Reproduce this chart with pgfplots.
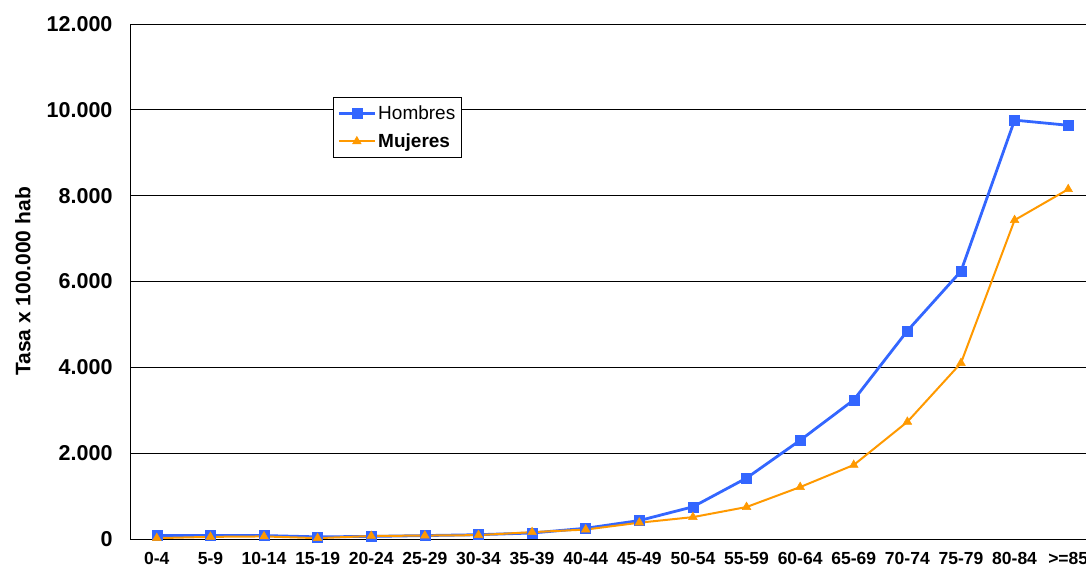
\documentclass[border=0pt]{standalone}
\usepackage{fontspec}
\setmainfont{Liberation Sans}
\usepackage{pgfplots}
\pgfplotsset{compat=1.18}
\definecolor{hblue}{HTML}{3366FF}
\definecolor{morange}{HTML}{FF9900}
\begin{document}
\begin{tikzpicture}[x=1pt,y=1pt]
\useasboundingbox (0,0) rectangle (1086,568);
\clip (0,0) rectangle (1086,568);
\begin{axis}[
  at={(130pt,29pt)}, anchor=south west,
  scale only axis, width=965pt, height=515pt,
  xmin=-0.5, xmax=17.5, ymin=0, ymax=12000,
  axis x line=bottom, axis y line=left,
  axis line style={-, line width=0.9pt, black},
  ymajorgrids, grid style={black, line width=0.9pt},
  ytick={0,2000,...,12000},
  xtick={0,...,17},
  xticklabels={0-4,5-9,10-14,15-19,20-24,25-29,30-34,35-39,40-44,45-49,50-54,55-59,60-64,65-69,70-74,75-79,80-84,>=85},
  major tick length=0pt,
  /pgf/number format/assume math mode=true,
  /pgf/number format/1000 sep={.},
  scaled y ticks=false,
  yticklabel style={font=\fontsize{21.5}{21.5}\selectfont\bfseries, xshift=-14pt},
  xticklabel style={font=\fontsize{17.5}{17.5}\selectfont\bfseries, yshift=-10pt},
  ylabel={Tasa x 100.000 hab},
  ylabel style={font=\fontsize{21}{21}\selectfont\bfseries, at={(axis description cs:-0.111,0.5)}, anchor=center},
  legend style={at={(axis description cs:0.2104,0.858)}, anchor=north west,
    draw=black, line width=0.8pt, fill=white, font=\fontsize{19}{19}\selectfont,
    inner xsep=4pt, inner ysep=6pt, row sep=9pt, cells={anchor=west}},
  legend image code/.code={\draw[mark repeat=2,mark phase=2] plot coordinates {(0pt,0pt) (18pt,0pt) (36pt,0pt)};},
]
\addplot[hblue, line width=2.8pt, mark=square*, mark size=5pt, mark options={line width=0.5pt}] coordinates {
(0,80) (1,80) (2,80) (3,50) (4,60) (5,80) (6,100) (7,140) (8,250) (9,430) (10,750) (11,1420) (12,2300) (13,3240) (14,4850) (15,6240) (16,9760) (17,9640)};
\addlegendentry{Hombres}
\addplot[morange, line width=2pt, mark=triangle*, mark size=5pt, mark options={line width=0.5pt}] coordinates {
(0,20) (1,50) (2,60) (3,20) (4,70) (5,80) (6,90) (7,160) (8,220) (9,380) (10,510) (11,745) (12,1210) (13,1725) (14,2730) (15,4100) (16,7430) (17,8150)};
\addlegendentry{\bfseries Mujeres}
\end{axis}
\end{tikzpicture}
\end{document}
